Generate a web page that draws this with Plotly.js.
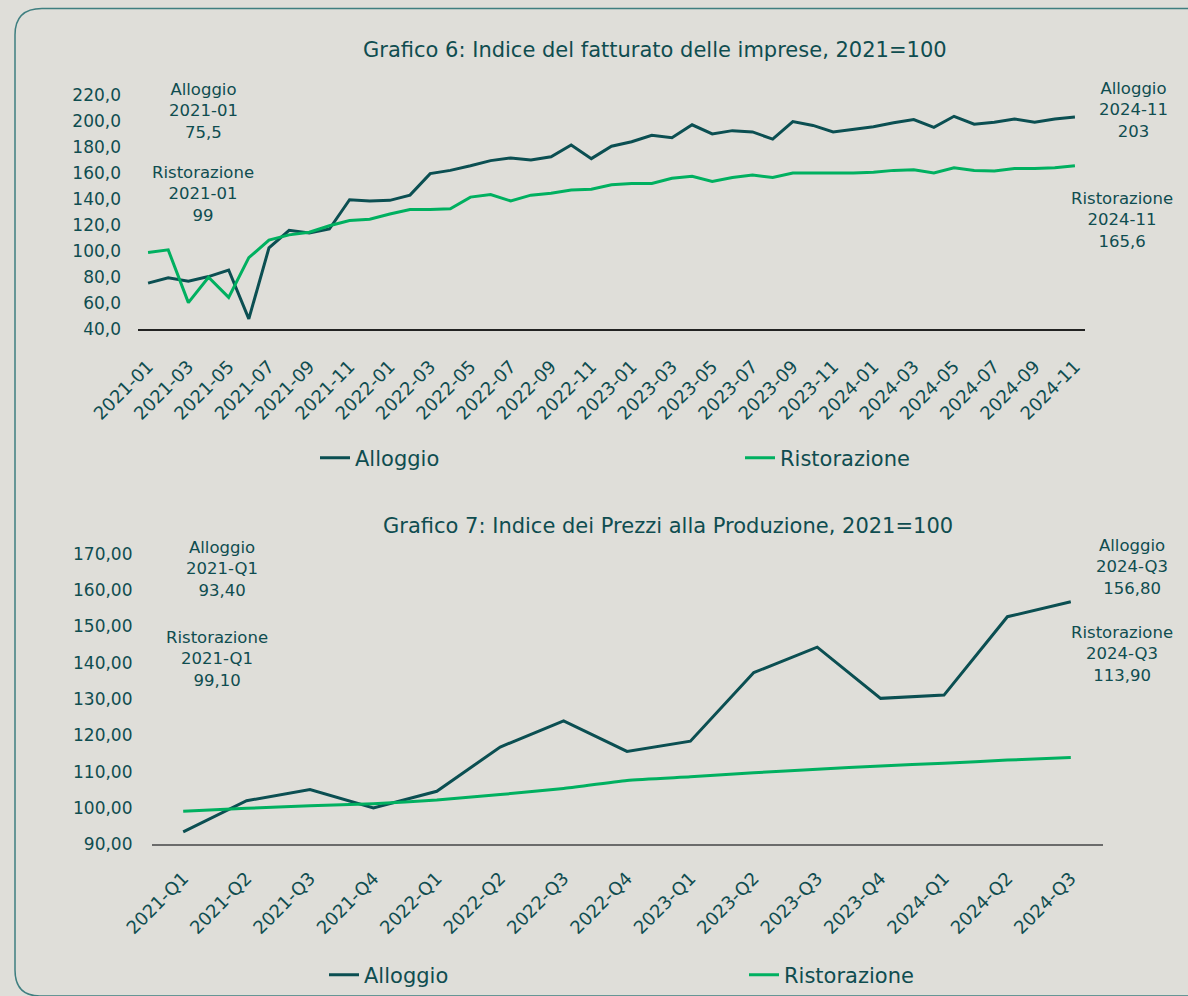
<!DOCTYPE html>
<html>
<head>
<meta charset="utf-8">
<script src="https://cdn.plot.ly/plotly-3.0.1.min.js"></script>
<style>
html,body{margin:0;padding:0;background:#dfded9;}
#chart{width:1188px;height:996px;}
</style>
</head>
<body>
<div id="chart"></div>
<script>
// ---- Grafico 6 data (monthly) ----
const mesi = [
  "2021-01","2021-02","2021-03","2021-04","2021-05","2021-06","2021-07","2021-08","2021-09","2021-10","2021-11","2021-12",
  "2022-01","2022-02","2022-03","2022-04","2022-05","2022-06","2022-07","2022-08","2022-09","2022-10","2022-11","2022-12",
  "2023-01","2023-02","2023-03","2023-04","2023-05","2023-06","2023-07","2023-08","2023-09","2023-10","2023-11","2023-12",
  "2024-01","2024-02","2024-03","2024-04","2024-05","2024-06","2024-07","2024-08","2024-09","2024-10","2024-11"
];
const alloggioFatturato = [
  75.5, 79.5, 77, 80.5, 85.5, 48, 102.5, 116, 114, 117, 139.5, 138.5,
  139, 143, 159.5, 162, 165.5, 169.5, 171.5, 170, 172.5, 181.5, 171, 180.5,
  184, 189, 187, 197, 190, 192.5, 191.5, 186, 199.5, 196.5, 191.5, 193.5,
  195.5, 198.5, 201, 195, 203.5, 197.5, 199, 201.5, 199, 201.5, 203
];
const ristorazioneFatturato = [
  99, 101, 60.5, 80, 64.5, 95, 108.5, 112.5, 114.5, 119.5, 123.5, 124.5,
  128.5, 132, 132, 132.5, 141.5, 143.5, 138.5, 143, 144.5, 147, 147.5, 151,
  152, 152, 156, 157.5, 153.5, 156.5, 158.5, 156.5, 160, 160, 159.5, 160,
  160.5, 162, 162.5, 160, 164, 162, 161.5, 163.5, 163.5, 164, 165.6
];
const tickMesi = mesi.filter((m, i) => i % 2 === 0);

// ---- Grafico 7 data (quarterly) ----
const trimestri = ["2021-Q1","2021-Q2","2021-Q3","2021-Q4","2022-Q1","2022-Q2","2022-Q3","2022-Q4",
  "2023-Q1","2023-Q2","2023-Q3","2023-Q4","2024-Q1","2024-Q2","2024-Q3"];
const alloggioPrezzi = [93.4, 102, 105.1, 100, 104.6, 116.8, 124, 115.6, 118.4, 137.3, 144.3, 130.2, 131.1, 152.7, 156.8];
const ristorazionePrezzi = [99.1, 99.9, 100.6, 101.2, 102.2, 103.7, 105.4, 107.6, 108.6, 109.7, 110.7, 111.6, 112.3, 113.2, 113.9];

// ---- styling ----
const colAlloggio = "#0b4f52";
const colRistorazione = "#00b060";
const colText = "#0f4d50";
const FONT = "DejaVu Sans, sans-serif";
const W = 1188, H = 996;
const px = x => x / W;
const py = y => 1 - y / H;
const itNum = v => String(v).replace(".", ",");
const itNum2 = v => v.toFixed(2).replace(".", ",");

const traces = [
  {x: mesi, y: alloggioFatturato, type: "scatter", mode: "lines", name: "Alloggio",
   line: {color: colAlloggio, width: 3}, xaxis: "x", yaxis: "y", legend: "legend"},
  {x: mesi, y: ristorazioneFatturato, type: "scatter", mode: "lines", name: "Ristorazione",
   line: {color: colRistorazione, width: 3}, xaxis: "x", yaxis: "y", legend: "legend"},
  {x: trimestri, y: alloggioPrezzi, type: "scatter", mode: "lines", name: "Alloggio",
   line: {color: colAlloggio, width: 3}, xaxis: "x2", yaxis: "y2", legend: "legend2"},
  {x: trimestri, y: ristorazionePrezzi, type: "scatter", mode: "lines", name: "Ristorazione",
   line: {color: colRistorazione, width: 3, shape: "spline", smoothing: 0.5}, xaxis: "x2", yaxis: "y2", legend: "legend2"}
];

const tickFont = {family: FONT, size: 17, color: colText};
const xTickFont = {family: FONT, size: 18, color: colText};
const annFont = {family: FONT, size: 16.5, color: colText};

function lbl(x, y, txt) {
  return {xref: "paper", yref: "paper", x: px(x), y: py(y), xanchor: "center", yanchor: "top",
    text: txt, showarrow: false, align: "center", font: annFont};
}

const n1 = mesi.length - 1, n2 = trimestri.length - 1;

const layout = {
  width: W, height: H,
  paper_bgcolor: "#dfded9", plot_bgcolor: "rgba(0,0,0,0)",
  margin: {l: 0, r: 0, t: 0, b: 0},
  separators: ",.",
  font: {family: FONT, color: colText},
  xaxis: {
    domain: [px(138), px(1085)], anchor: "y", type: "category",
    range: [-0.5, n1 + 0.5], tickvals: tickMesi, ticktext: tickMesi,
    tickangle: -45, tickfont: xTickFont, showgrid: false, zeroline: false,
    showline: true, linecolor: "#222", linewidth: 1.5, ticks: "", ticklabelstandoff: 18
  },
  yaxis: {
    domain: [py(330), py(95)], anchor: "x", range: [40, 220], dtick: 20,
    tickformat: ".1f", tickfont: tickFont, showgrid: false, zeroline: false,
    showline: false, ticks: "", ticklabelstandoff: 16
  },
  xaxis2: {
    domain: [px(151.5), px(1102.5)], anchor: "y2", type: "category",
    range: [-0.5, n2 + 0.5], tickvals: trimestri, ticktext: trimestri,
    tickangle: -45, tickfont: xTickFont, showgrid: false, zeroline: false,
    showline: true, linecolor: "#6b6b6b", linewidth: 1.5, ticks: "", ticklabelstandoff: 15
  },
  yaxis2: {
    domain: [py(846), py(555)], anchor: "x2", range: [90, 170], dtick: 10,
    tickformat: ".2f", tickfont: tickFont, showgrid: false, zeroline: false,
    showline: false, ticks: "", ticklabelstandoff: 18
  },
  legend: {
    orientation: "h", x: px(315), y: py(459), xanchor: "left", yanchor: "middle",
    bgcolor: "rgba(0,0,0,0)", font: {family: FONT, size: 21, color: colText},
    entrywidth: 380, entrywidthmode: "pixels", itemwidth: 30
  },
  legend2: {
    orientation: "h", x: px(324), y: py(977), xanchor: "left", yanchor: "middle",
    bgcolor: "rgba(0,0,0,0)", font: {family: FONT, size: 21, color: colText},
    entrywidth: 375, entrywidthmode: "pixels", itemwidth: 30
  },
  annotations: [
    {xref: "paper", yref: "paper", x: px(655), y: py(50), xanchor: "center", yanchor: "middle",
     text: "Grafico 6: Indice del fatturato delle imprese, 2021=100", showarrow: false,
     font: {family: FONT, size: 21, color: colText}},
    {xref: "paper", yref: "paper", x: px(668), y: py(527), xanchor: "center", yanchor: "middle",
     text: "Grafico 7: Indice dei Prezzi alla Produzione, 2021=100", showarrow: false,
     font: {family: FONT, size: 21, color: colText}},
    lbl(203, 78, "Alloggio<br>" + mesi[0] + "<br>" + itNum(alloggioFatturato[0])),
    lbl(203, 161, "Ristorazione<br>" + mesi[0] + "<br>" + itNum(ristorazioneFatturato[0])),
    lbl(1133, 77, "Alloggio<br>" + mesi[n1] + "<br>" + itNum(alloggioFatturato[n1])),
    lbl(1122, 187, "Ristorazione<br>" + mesi[n1] + "<br>" + itNum(ristorazioneFatturato[n1])),
    lbl(222, 537, "Alloggio<br>" + trimestri[0] + "<br>" + itNum2(alloggioPrezzi[0])),
    lbl(217, 627, "Ristorazione<br>" + trimestri[0] + "<br>" + itNum2(ristorazionePrezzi[0])),
    lbl(1132, 535, "Alloggio<br>" + trimestri[n2] + "<br>" + itNum2(alloggioPrezzi[n2])),
    lbl(1122, 622, "Ristorazione<br>" + trimestri[n2] + "<br>" + itNum2(ristorazionePrezzi[n2]))
  ],
  shapes: [
    {type: "path", xref: "paper", yref: "paper", layer: "below",
     path: "M " + px(1200) + "," + py(8.5) + " L " + px(42) + "," + py(8.5) +
           " Q " + px(15) + "," + py(8.5) + " " + px(15) + "," + py(35) +
           " L " + px(15) + "," + py(972) +
           " Q " + px(15) + "," + py(998) + " " + px(40) + "," + py(998) +
           " L " + px(1200) + "," + py(998),
     line: {color: "#3f7f80", width: 1.5}, fillcolor: "rgba(0,0,0,0)"}
  ]
};

Plotly.newPlot("chart", traces, layout, {displayModeBar: false, staticPlot: true});
</script>
</body>
</html>
